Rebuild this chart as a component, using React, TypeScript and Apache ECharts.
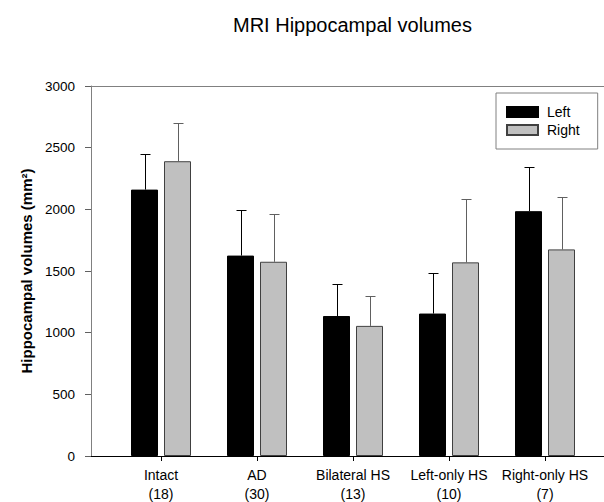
import React, { useEffect, useRef } from 'react';
import * as echarts from 'echarts';

const categories = ['Intact', 'AD', 'Bilateral HS', 'Left-only HS', 'Right-only HS'];
const groupSizes = ['(18)', '(30)', '(13)', '(10)', '(7)'];
const leftMeans = [2160, 1625, 1135, 1155, 1985];
const leftSD = [285, 370, 260, 325, 355];
const rightMeans = [2390, 1575, 1055, 1570, 1675];
const rightSD = [310, 385, 240, 510, 425];
const yTicks = { min: 0, max: 3000, interval: 500 };

const FONT = '"Liberation Sans", Arial, sans-serif';
const BAR_W = 27;
const BAR_GAP = 6;
const CAP = 10;

export default function App() {
  const ref = useRef<HTMLDivElement>(null);

  useEffect(() => {
    const chart = echarts.init(ref.current!, null, { renderer: 'svg' });
    const offset = (BAR_W + BAR_GAP) / 2;

    const errorSeries = (name: string, means: number[], sds: number[], side: number, color: string) => ({
      type: 'custom',
      name,
      xAxisIndex: 0,
      yAxisIndex: 0,
      z: 1,
      data: means.map((m, i) => [i, m, m + sds[i]]),
      renderItem: (_params: any, api: any) => {
        const xi = api.value(0);
        const base = api.coord([xi, api.value(1)]);
        const top = api.coord([xi, api.value(2)]);
        const cx = Math.round(base[0] + side * offset) + 0.5;
        const ty = Math.round(top[1]) + 0.5;
        return {
          type: 'group',
          children: [
            { type: 'line', shape: { x1: cx, y1: base[1], x2: cx, y2: ty }, style: { stroke: color, lineWidth: 1 } },
            { type: 'line', shape: { x1: cx - CAP / 2, y1: ty, x2: cx + CAP / 2, y2: ty }, style: { stroke: color, lineWidth: 1 } },
          ],
        };
      },
    });

    chart.setOption({
      animation: false,
      backgroundColor: '#ffffff',
      textStyle: { fontFamily: FONT },
      title: {
        text: 'MRI Hippocampal volumes',
        left: 228,
        top: 10,
        textStyle: { fontFamily: FONT, fontSize: 20, fontWeight: 'normal', color: '#000' },
      },
      legend: {
        data: ['Left', 'Right'],
        orient: 'vertical',
        left: 496,
        top: 93,
        icon: 'rect',
        itemWidth: 31,
        itemHeight: 10,
        itemGap: 2,
        padding: [11, 18, 11, 10],
        borderColor: '#808080',
        borderWidth: 1,
        textStyle: { fontFamily: FONT, fontSize: 14, color: '#000', lineHeight: 16, padding: [0, 0, 0, 4] },
      },
      grid: [
        { left: 113, right: 11, top: 86, bottom: 46, outerBoundsMode: 'none', containLabel: false },
        { left: 91, right: -10, top: 86, bottom: 46, outerBoundsMode: 'none', containLabel: false },
      ],
      xAxis: [
        {
          type: 'category',
          gridIndex: 0,
          data: categories.map((c, i) => `${c}\n${groupSizes[i]}`),
          axisLine: { show: false },
          axisTick: { show: true, alignWithLabel: true, length: 5, lineStyle: { color: '#000' } },
          axisLabel: { interval: 0, fontSize: 14, lineHeight: 19, margin: 9, color: '#000', fontFamily: FONT },
          splitLine: { show: false },
        },
        {
          type: 'value',
          gridIndex: 1,
          min: 0,
          max: 1,
          axisLine: { show: true, onZero: false, lineStyle: { color: '#000' } },
          axisTick: { show: false },
          axisLabel: { show: false },
          splitLine: { show: false },
        },
        {
          type: 'value',
          gridIndex: 1,
          position: 'top',
          min: 0,
          max: 1,
          axisLine: { show: true, onZero: false, lineStyle: { color: '#808080' } },
          axisTick: { show: false },
          axisLabel: { show: false },
          splitLine: { show: false },
        },
      ],
      yAxis: [
        {
          type: 'value',
          gridIndex: 0,
          min: yTicks.min,
          max: yTicks.max,
          show: false,
        },
        {
          type: 'value',
          gridIndex: 1,
          min: yTicks.min,
          max: yTicks.max,
          interval: yTicks.interval,
          axisLine: { show: true, lineStyle: { color: '#808080' } },
          axisTick: { show: true, length: 6, lineStyle: { color: '#606060' } },
          axisLabel: {
            fontSize: 13.5,
            margin: 16,
            color: '#000',
            fontFamily: FONT,
            formatter: (v: number) => String(v),
          },
          splitLine: { show: false },
          name: 'Hippocampal volumes (mm²)',
          nameLocation: 'middle',
          nameGap: 51,
          nameTextStyle: { fontFamily: FONT, fontSize: 15, fontWeight: 'bold', color: '#000' },
        },
      ],
      series: [
        {
          type: 'bar',
          name: 'Left',
          xAxisIndex: 0,
          yAxisIndex: 0,
          data: leftMeans,
          barWidth: BAR_W,
          barGap: `${(BAR_GAP / BAR_W) * 100}%`,
          z: 2,
          itemStyle: { color: '#000000', borderColor: '#000000', borderWidth: 1 },
        },
        {
          type: 'bar',
          name: 'Right',
          xAxisIndex: 0,
          yAxisIndex: 0,
          data: rightMeans,
          barWidth: BAR_W,
          barGap: `${(BAR_GAP / BAR_W) * 100}%`,
          z: 2,
          itemStyle: { color: '#c0c0c0', borderColor: '#404040', borderWidth: 1 },
        },
        errorSeries('Left SD', leftMeans, leftSD, -1, '#000000'),
        errorSeries('Right SD', rightMeans, rightSD, 1, '#606060'),
      ],
    });

    return () => chart.dispose();
  }, []);

  return (
    <div
      ref={ref}
      style={{ position: 'fixed', left: 0, top: 0, width: 604, height: 502, background: '#fff' }}
    />
  );
}
